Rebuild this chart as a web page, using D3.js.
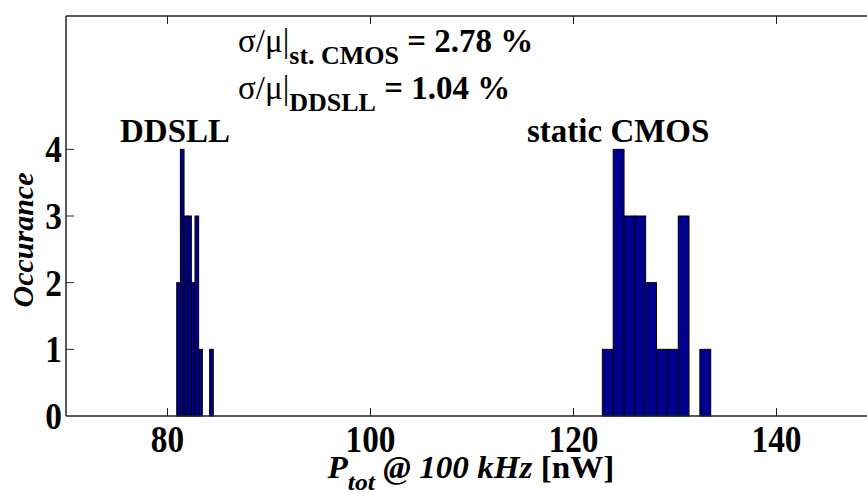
<!DOCTYPE html>
<html>
<head>
<meta charset="utf-8">
<script src="https://cdn.jsdelivr.net/npm/d3@7"></script>
<style>
  body { margin: 0; background: #fff; }
</style>
</head>
<body>
<div id="chart"></div>
<script>
// bin edges (MATLAB hist, 10 bins each)
const ddsllEdges = [80.91, 81.27, 81.63, 81.99, 82.35, 82.71, 83.07, 83.43, 83.79, 84.15, 84.51];
const ddsllCounts = [2, 4, 3, 3, 2, 3, 1, 0, 0, 1];
const cmosEdges = [122.84, 123.91, 124.98, 126.04, 127.11, 128.18, 129.25, 130.32, 131.38, 132.45, 133.52];
const cmosCounts = [1, 4, 3, 3, 2, 1, 1, 3, 0, 1];

const xTicks = [80, 100, 120, 140];
const yTicks = [0, 1, 2, 3, 4];

const width = 867, height = 493;
const plot = { left: 66, top: 16, bottom: 416, right: 878 };
const serif = '"Liberation Serif", "Times New Roman", Times, serif';

const x = d3.scaleLinear().domain([70, 150]).range([plot.left, plot.right]);
const y = d3.scaleLinear().domain([0, 6]).range([plot.bottom, plot.top]);

const svg = d3.select('#chart').append('svg')
  .attr('width', width)
  .attr('height', height)
  .attr('font-family', serif);

// bars
function toBins(edges, counts) {
  return counts.map((c, i) => ({ x0: edges[i], x1: edges[i + 1], n: c })).filter(d => d.n > 0);
}
const bins = toBins(ddsllEdges, ddsllCounts).concat(toBins(cmosEdges, cmosCounts));

svg.selectAll('.bar')
  .data(bins)
  .enter().append('rect')
  .attr('class', 'bar')
  .attr('x', d => x(d.x0))
  .attr('width', d => x(d.x1) - x(d.x0))
  .attr('y', d => y(d.n))
  .attr('height', d => y(0) - y(d.n))
  .style('fill', '#00008f')
  .style('stroke', '#000')
  .style('stroke-width', 1);

// axes (MATLAB style: ticks inward, box)
const tickLen = 8;
const axis = svg.append('g').style('stroke', '#222').style('stroke-width', 1.5);

axis.append('line')
  .attr('x1', plot.left).attr('x2', width)
  .attr('y1', plot.bottom).attr('y2', plot.bottom);
axis.append('line')
  .attr('x1', plot.left).attr('x2', width)
  .attr('y1', plot.top).attr('y2', plot.top);
axis.append('line')
  .attr('x1', plot.left).attr('x2', plot.left)
  .attr('y1', plot.top).attr('y2', plot.bottom);

axis.selectAll('.xt')
  .data(xTicks)
  .enter().append('line')
  .attr('x1', d => x(d)).attr('x2', d => x(d))
  .attr('y1', plot.bottom).attr('y2', plot.bottom - tickLen)
  .style('stroke-width', 1);
axis.selectAll('.xtt')
  .data(xTicks)
  .enter().append('line')
  .attr('x1', d => x(d)).attr('x2', d => x(d))
  .attr('y1', plot.top).attr('y2', plot.top + tickLen)
  .style('stroke-width', 1);
axis.selectAll('.yt')
  .data(yTicks.slice(1))
  .enter().append('line')
  .attr('x1', plot.left).attr('x2', plot.left + tickLen)
  .attr('y1', d => y(d)).attr('y2', d => y(d))
  .style('stroke-width', 1);

// tick labels (the figure's font is a bit narrow, so squeeze horizontally)
const tickSize = 37, squeeze = 0.9;
svg.selectAll('.xlab')
  .data(xTicks)
  .enter().append('text')
  .attr('transform', d => 'translate(' + x(d) + ',452) scale(' + squeeze + ',1)')
  .attr('text-anchor', 'middle')
  .attr('font-weight', 'bold')
  .attr('font-size', tickSize)
  .text(d => d);

svg.selectAll('.ylab')
  .data(yTicks)
  .enter().append('text')
  .attr('transform', d => 'translate(62,' + y(d) + ') scale(' + squeeze + ',1)')
  .attr('dy', '0.35em')
  .attr('text-anchor', 'end')
  .attr('font-weight', 'bold')
  .attr('font-size', tickSize)
  .text(d => d);

// axis titles
svg.append('text')
  .attr('transform', 'translate(33,240) rotate(-90)')
  .attr('text-anchor', 'middle')
  .attr('font-weight', 'bold')
  .attr('font-style', 'italic')
  .attr('font-size', 30)
  .text('Occurance');

// x title, centred on the full axes width
const xt = svg.append('text')
  .attr('transform', 'translate(471,478) scale(1.07,1)')
  .attr('text-anchor', 'middle')
  .attr('font-weight', 'bold')
  .attr('font-size', 31);
xt.append('tspan').attr('font-style', 'italic').text('P');
xt.append('tspan').attr('font-style', 'italic').attr('font-size', 24).attr('dy', 12).text('tot');
xt.append('tspan').attr('font-style', 'italic').attr('dy', -12).text(' @ 100 kHz');
xt.append('tspan').text(' [nW]');

// group labels
svg.append('text')
  .attr('x', 120).attr('y', 142)
  .attr('font-weight', 'bold').attr('font-size', 33)
  .text('DDSLL');
svg.append('text')
  .attr('x', 527).attr('y', 142)
  .attr('font-weight', 'bold').attr('font-size', 33)
  .text('static CMOS');

// sigma/mu annotation
function sigmaLine(yy, sub, value) {
  const t = svg.append('text')
    .attr('x', 238).attr('y', yy)
    .attr('font-size', 33);
  t.append('tspan').text('σ/μ|');
  t.append('tspan').attr('font-weight', 'bold').attr('font-size', 26).attr('dy', 12).text(sub);
  t.append('tspan').attr('font-weight', 'bold').attr('dy', -12).text(' = ' + value + ' %');
}
sigmaLine(52, 'st. CMOS', '2.78');
sigmaLine(99, 'DDSLL', '1.04');
</script>
</body>
</html>
